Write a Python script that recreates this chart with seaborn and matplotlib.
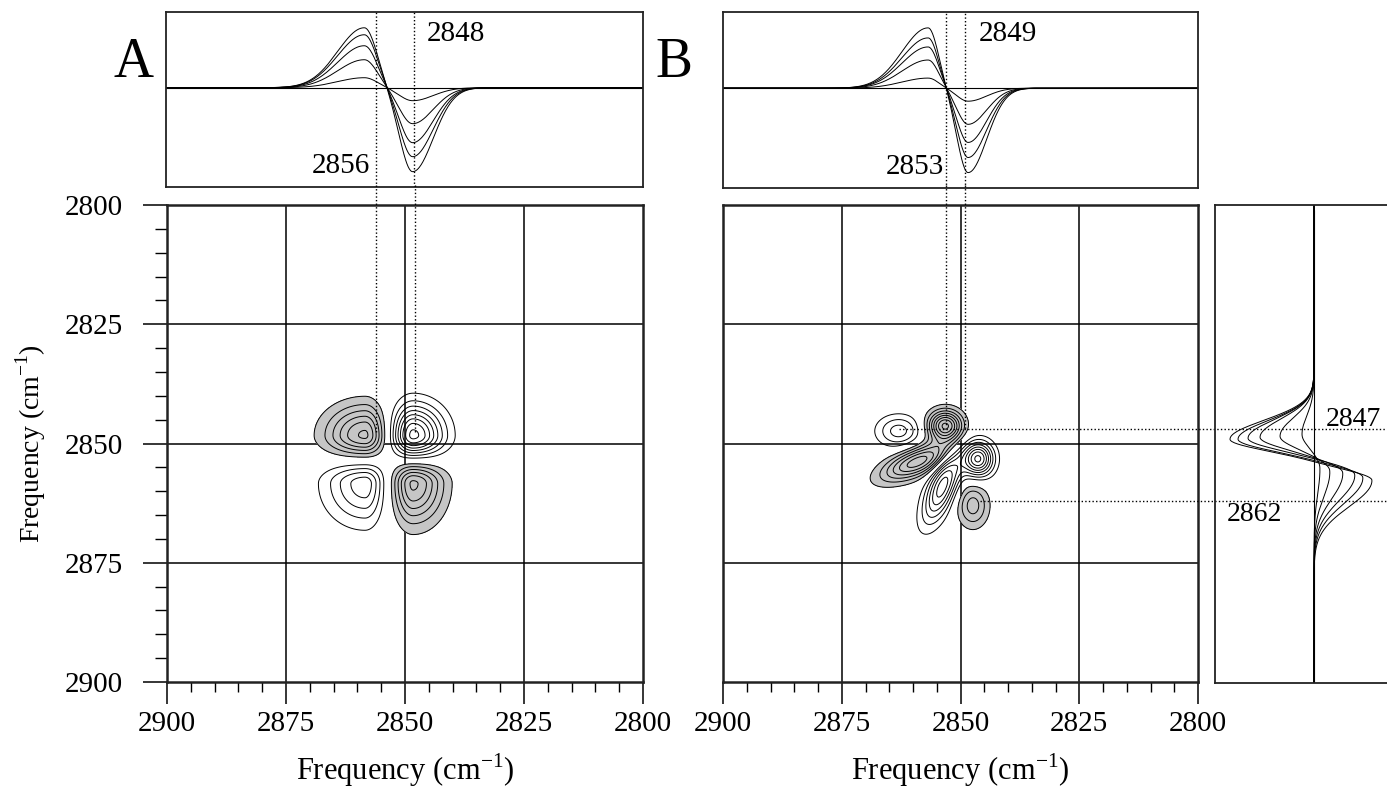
import numpy as np
import pandas as pd
import matplotlib
matplotlib.use("Agg")
import matplotlib.pyplot as plt
from matplotlib.ticker import MultipleLocator
import seaborn as sns

# ---------------- data ----------------
freq_ticks = [2900, 2875, 2850, 2825, 2800]
grid_freqs = [2875, 2850, 2825]

# Panel A dynamic spectra (top strip): lobe amplitudes per perturbation step
a_pos_amp = [60, 53, 42, 28, 10]
a_neg_amp = [84, 69, 55, 36, 13]
a_pos_center = 2858.4
a_neg_center = 2848.3
a_pos_width = (5.6, 2.6)   # (high-frequency side, low-frequency side)
a_neg_width = (2.7, 4.3)
a_marks = [2856, 2848]

# Panel B dynamic spectra (top strip)
b_pos_amp = [60, 50, 41, 28, 10]
b_neg_amp = [84, 69, 54, 36, 13]
b_pos_center = 2856.8
b_neg_center = 2848.4
b_pos_width = (5.5, 2.1)
b_neg_width = (2.3, 3.9)
b_marks = [2853, 2849]

# Panel B side spectra (right strip)
r_pos_amp = [58, 49, 41, 29, 16, 6]
r_neg_amp = [84, 76, 66, 54, 34, 12]
r_pos_center = [2857.6, 2857.0, 2856.4, 2856.0, 2855.6, 2855.0]
r_neg_center = [2849.0, 2849.0, 2848.8, 2848.6, 2848.4, 2848.0]
r_marks = [2847, 2862]

# Panel B asynchronous map: positive lobes (mirrored negatively across the diagonal)
lobe_x = [2846.3, 2863.0, 2853.8]
lobe_y = [2853.2, 2847.4, 2859.0]
lobe_sa = [2.2, 3.2, 5.5]
lobe_sb = [2.5, 2.3, 2.0]
lobe_angle = [0, 0, 68]
lobe_amp = [1.0, 0.42, 0.8]

# ---------------- helpers ----------------
nu = np.linspace(2800, 2900, 801)


def split_lobe(x, c, widths):
    s = np.where(x >= c, widths[0], widths[1])
    return np.exp(-0.5 * ((x - c) / s) ** 2)


def spectra(pos_amp, neg_amp, pos_c, neg_c, pos_w, neg_w):
    n = len(pos_amp)
    pos_c = np.broadcast_to(pos_c, (n,))
    neg_c = np.broadcast_to(neg_c, (n,))
    return np.array([pa * split_lobe(nu, pc, pos_w) - na * split_lobe(nu, nc, neg_w)
                     for pa, na, pc, nc in zip(pos_amp, neg_amp, pos_c, neg_c)])


def long_df(D):
    return pd.DataFrame({"freq": np.tile(nu, D.shape[0]),
                         "value": D.ravel(),
                         "curve": np.repeat(np.arange(D.shape[0]), D.shape[1])})


DA = spectra(a_pos_amp, a_neg_amp, a_pos_center, a_neg_center, a_pos_width, a_neg_width)
DB = spectra(b_pos_amp, b_neg_amp, b_pos_center, b_neg_center, b_pos_width, b_neg_width)
DR = spectra(r_pos_amp, r_neg_amp, r_pos_center, r_neg_center, b_pos_width, b_neg_width)

# synchronous map A
PhiA = DA.T @ DA / (DA.shape[0] - 1)

# asynchronous map B
X, Y = np.meshgrid(nu, nu)


def lobes(X, Y):
    Z = np.zeros_like(X)
    for cx, cy, sa, sb, ang, amp in zip(lobe_x, lobe_y, lobe_sa, lobe_sb, lobe_angle, lobe_amp):
        t = np.deg2rad(ang)
        u = (X - cx) * np.cos(t) + (Y - cy) * np.sin(t)
        v = -(X - cx) * np.sin(t) + (Y - cy) * np.cos(t)
        Z += amp * np.exp(-0.5 * ((u / sa) ** 2 + (v / sb) ** 2))
    return Z


PsiB = lobes(X, Y) - lobes(Y, X)

# ---------------- styling ----------------
sns.set_theme(style="white")
plt.rcParams["font.family"] = ["Liberation Serif", "DejaVu Serif"]
plt.rcParams["mathtext.fontset"] = "custom"
plt.rcParams["mathtext.rm"] = "Liberation Serif"
plt.rcParams["font.size"] = 20
for key in ["text.color", "axes.labelcolor", "xtick.color", "ytick.color"]:
    plt.rcParams[key] = "black"

W, H = 1387, 790
fig = plt.figure(figsize=(W / 100, H / 100), dpi=100)


def add_ax(l, r, t, b):
    return fig.add_axes([l / W, 1 - b / H, (r - l) / W, (b - t) / H])


axA_top = add_ax(166, 643, 12, 187)
axA = add_ax(167, 643, 205, 682)
axB_top = add_ax(723, 1198, 12, 188)
axB = add_ax(723, 1198, 205, 682)
axR = add_ax(1215, 1400, 205, 683)

dot = dict(color="black", lw=1.0, ls=(0, (1, 1.6)))
label_txt = r"Frequency (cm$^{\mathregular{-1}}$)"
gray = "#c6c6c6"
TICK_FS = 21


def style_main(ax, ylabels):
    ax.set_xlim(2900, 2800)
    ax.set_ylim(2900, 2800)
    ax.set_xticks(freq_ticks)
    ax.set_yticks(freq_ticks)
    ax.xaxis.set_minor_locator(MultipleLocator(5))
    ax.yaxis.set_minor_locator(MultipleLocator(5))
    for g in grid_freqs:
        ax.axvline(g, color="black", lw=1.1, zorder=1)
        ax.axhline(g, color="black", lw=1.1, zorder=1)
    for s in ax.spines.values():
        s.set_linewidth(1.8)
        s.set_color("#222222")
    ax.tick_params(axis="x", which="major", direction="out", length=16, width=1.1,
                   pad=5, labelsize=TICK_FS, bottom=True)
    ax.tick_params(axis="x", which="minor", direction="out", length=7, width=1.0, bottom=True)
    if ylabels:
        ax.tick_params(axis="y", which="major", direction="out", length=17, width=1.1,
                       pad=15, labelsize=TICK_FS, left=True)
        ax.tick_params(axis="y", which="minor", direction="out", length=9, width=1.0, left=True)
        ax.set_ylabel(label_txt, fontsize=20, labelpad=12)
    else:
        ax.tick_params(axis="y", which="both", left=False, labelleft=False)
        ax.set_ylabel("")
    ax.set_xlabel(label_txt, fontsize=22, labelpad=10)


def style_top(ax):
    ax.set_xlim(2900, 2800)
    ax.set_ylim(-99.3, 75.7)
    ax.set_xticks([])
    ax.set_yticks([])
    ax.set_xlabel("")
    ax.set_ylabel("")
    for s in ax.spines.values():
        s.set_linewidth(1.3)
        s.set_color("#222222")
    ax.axhline(0, color="black", lw=0.8, zorder=1)


def draw_map(ax, Z):
    m = np.abs(Z).max()
    step = m / 8.3
    pos_levels = step * np.arange(1, 9)
    neg_levels = -step * np.arange(8, 0, -1)
    ax.contourf(nu, nu, Z, levels=[Z.min() - 1, -step], colors=[gray], zorder=2)
    ax.contour(nu, nu, Z, levels=neg_levels, colors="black", linewidths=0.7,
               linestyles="solid", zorder=3)
    ax.contour(nu, nu, Z, levels=pos_levels[pos_levels < Z.max()], colors="black",
               linewidths=0.7, linestyles="solid", zorder=3)


# ---------------- panel A ----------------
sns.lineplot(data=long_df(DA), x="freq", y="value", units="curve", estimator=None,
             color="black", lw=0.7, ax=axA_top, legend=False)
style_top(axA_top)
for f in a_marks:
    axA_top.axvline(f, **dot)
axA_top.text(2845.4, 53.7, str(a_marks[1]), ha="left", va="center", fontsize=21)
axA_top.text(2869.5, -78, str(a_marks[0]), ha="left", va="center", fontsize=21)

draw_map(axA, PhiA)
style_main(axA, True)
for f in a_marks:
    axA.plot([f, f], [2795.8, 2848], clip_on=False, zorder=4, **dot)

# ---------------- panel B ----------------
sns.lineplot(data=long_df(DB), x="freq", y="value", units="curve", estimator=None,
             color="black", lw=0.7, ax=axB_top, legend=False)
style_top(axB_top)
for f in b_marks:
    axB_top.axvline(f, **dot)
axB_top.text(2846.1, 53.7, str(b_marks[1]), ha="left", va="center", fontsize=21)
axB_top.text(2865.8, -78, str(b_marks[0]), ha="left", va="center", fontsize=21)

draw_map(axB, PsiB)
style_main(axB, False)
axB.plot([b_marks[0]] * 2, [2795.8, 2846.5], clip_on=False, zorder=4, **dot)
axB.plot([b_marks[1]] * 2, [2795.8, r_marks[0]], clip_on=False, zorder=4, **dot)
axB.plot([2863, 2760], [r_marks[0]] * 2, clip_on=False, zorder=4, **dot)
axB.plot([2846, 2760], [r_marks[1]] * 2, clip_on=False, zorder=4, **dot)

# ---------------- right strip ----------------
sns.lineplot(data=long_df(DR), x="value", y="freq", units="curve", estimator=None,
             sort=False, orient="y", color="black", lw=0.7, ax=axR, legend=False)
axR.set_xlim(-99, 86)
axR.set_ylim(2900, 2800)
axR.set_xticks([])
axR.set_yticks([])
axR.set_xlabel("")
axR.set_ylabel("")
axR.patch.set_alpha(0)
for s in axR.spines.values():
    s.set_linewidth(1.3)
    s.set_color("#222222")
axR.spines["right"].set_visible(False)
axR.plot([0, 0], [2801, 2900], color="black", lw=0.8)
axR.text(12, 2844.9, str(r_marks[0]), ha="left", va="center", fontsize=20)
axR.text(-87, 2864.8, str(r_marks[1]), ha="left", va="center", fontsize=20)

# panel letters
fig.text(113 / W, 1 - 77 / H, "A", ha="left", va="baseline", fontsize=40)
fig.text(655 / W, 1 - 77 / H, "B", ha="left", va="baseline", fontsize=40)

fig.savefig("out.png", dpi=100)
